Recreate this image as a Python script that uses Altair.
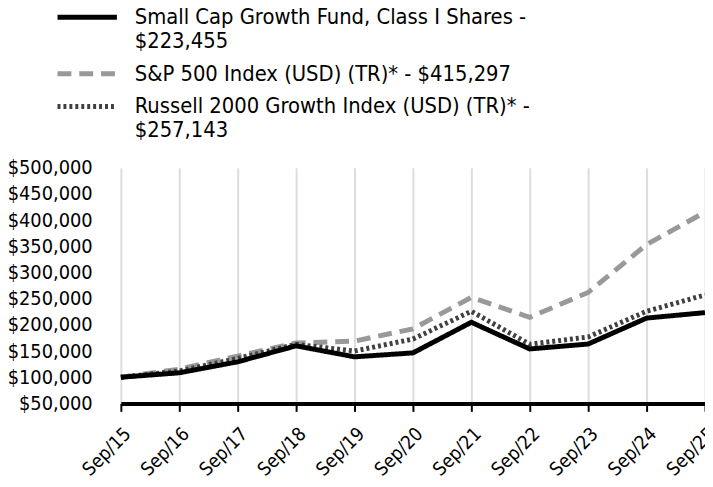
import altair as alt
import pandas as pd

years = ["Sep/15", "Sep/16", "Sep/17", "Sep/18", "Sep/19", "Sep/20",
         "Sep/21", "Sep/22", "Sep/23", "Sep/24", "Sep/25"]
fund = [100000, 108500, 129500, 160000, 139000, 146500, 205000, 154000, 163500, 213000, 223455]
sp500 = [100000, 115500, 140500, 165500, 169000, 192500, 252500, 214500, 262000, 353500, 415297]
russell = [100000, 112000, 136000, 163000, 150000, 173000, 226000, 163000, 177000, 226000, 257143]

names = [
    "Small Cap Growth Fund, Class I Shares -|$223,455",
    "S&P 500 Index (USD) (TR)* - $415,297",
    "Russell 2000 Growth Index (USD) (TR)* -|$257,143",
]
colors = ["#000000", "#999999", "#404040"]
dashes = [[1, 0], [14, 8], [3, 3]]

rows = []
for name, vals, order in [(names[1], sp500, 0), (names[2], russell, 1), (names[0], fund, 2)]:
    for y, v in zip(years, vals):
        rows.append({"year": y, "value": v, "series": name, "ord": order})
df = pd.DataFrame(rows)

FONT = "DejaVu Sans Condensed"

legend = alt.Legend(
    title=None, orient="none", legendX=-45, legendY=-163,
    symbolType="M-6,0H6", symbolSize=100, symbolStrokeWidth=5,
    labelFont=FONT, labelFontSize=22, labelColor="#000000",
    labelExpr="split(datum.label, '|')", labelLimit=600,
    rowPadding=11, labelOffset=37,
)

chart = alt.Chart(df).mark_line(strokeWidth=5).encode(
    x=alt.X("year:O", sort=years, title=None,
            scale=alt.Scale(type="point", padding=0),
            axis=alt.Axis(labelAngle=-45, labelAlign="right", labelBaseline="top",
                          labelFont=FONT, labelFontSize=19, labelColor="#000000",
                          domainColor="#000000", domainWidth=4,
                          tickColor="#000000", tickWidth=2, tickSize=8,
                          grid=True, gridColor="#dddddd", gridWidth=2,
                          labelPadding=13)),
    y=alt.Y("value:Q", title=None,
            scale=alt.Scale(domain=[50000, 500000], nice=False),
            axis=alt.Axis(values=list(range(50000, 500001, 50000)), format="$,.0f",
                          grid=False, domain=False, ticks=False,
                          labelFont=FONT, labelFontSize=20, labelColor="#000000",
                          labelPadding=29)),
    color=alt.Color("series:N", scale=alt.Scale(domain=names, range=colors), legend=legend),
    strokeDash=alt.StrokeDash("series:N", scale=alt.Scale(domain=names, range=dashes), legend=legend),
    order=alt.Order("ord:Q"),
).properties(
    width=590, height=238,
    autosize=alt.AutoSizeParams(type="none"),
    padding={"left": 114, "top": 159, "right": 0, "bottom": 82},
).configure_view(stroke=None)

chart.save("out.html", embed_options={"renderer": "svg", "actions": False})
